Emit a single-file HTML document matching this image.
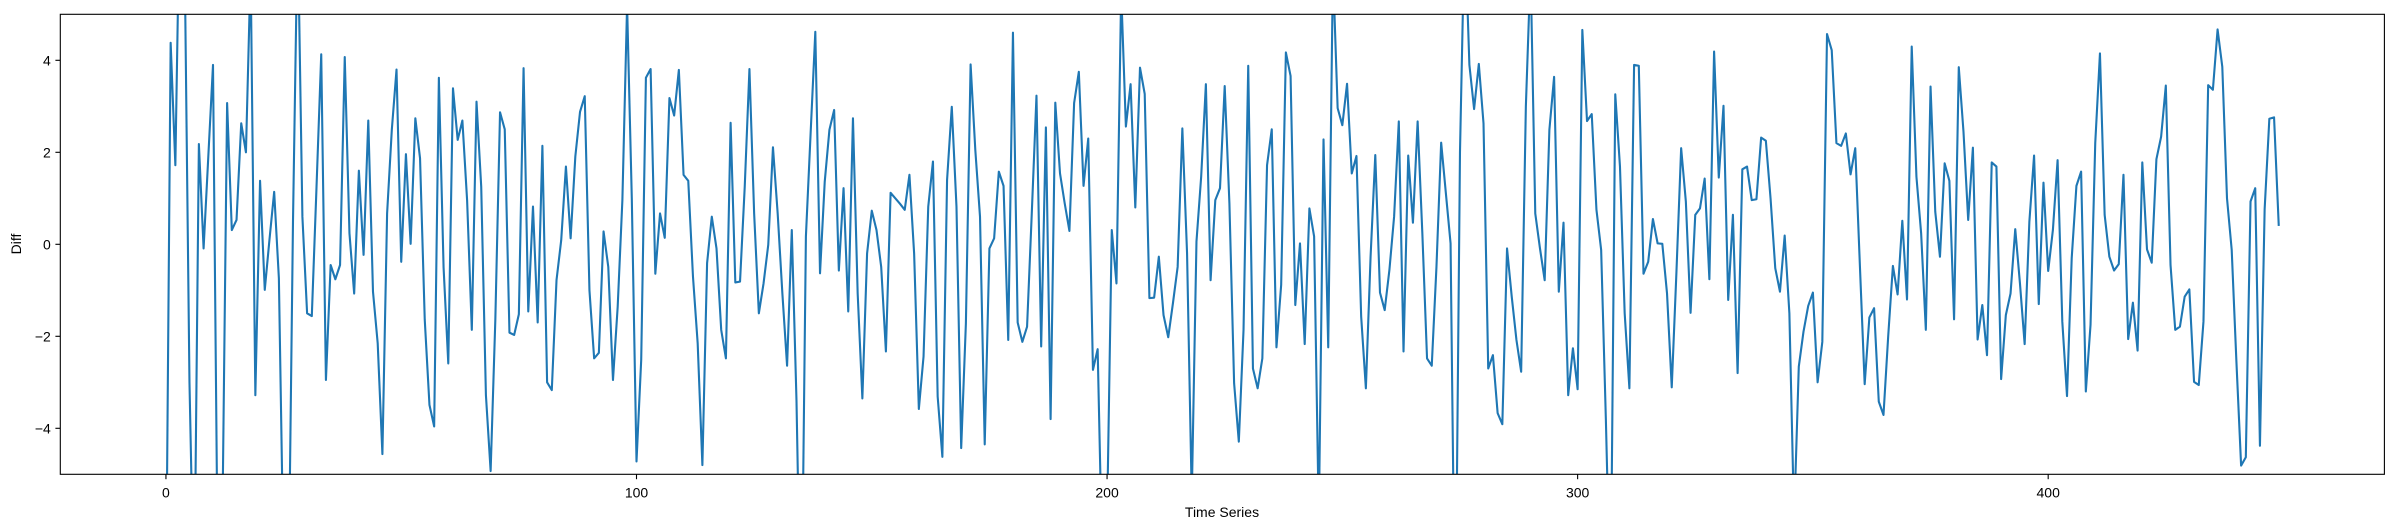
<!DOCTYPE html>
<html>
<head>
<meta charset="utf-8">
<style>
  html, body { margin: 0; padding: 0; background: #ffffff; width: 2398px; height: 528px; overflow: hidden; }
  svg { display: block; }
  text { font-family: "Liberation Sans", "DejaVu Sans", sans-serif; fill: #000; }
</style>
</head>
<body>
<svg id="chart" width="2398" height="528" viewBox="0 0 2398 528" xmlns="http://www.w3.org/2000/svg">
  <defs>
    <clipPath id="plot-clip"><rect x="60.3" y="14.3" width="2324.1" height="460"/></clipPath>
  </defs>
  <rect x="0" y="0" width="2398" height="528" fill="#ffffff"/>
  <g id="series" clip-path="url(#plot-clip)"></g>
  <rect x="60.3" y="14.3" width="2324.1" height="460" fill="none" stroke="#000" stroke-width="1.1"/>
  <g id="xticks"></g>
  <g id="yticks"></g>
  <text x="1222" y="517" font-size="14" text-anchor="middle">Time Series</text>
  <text x="21" y="244" font-size="14" text-anchor="middle" transform="rotate(-90 21 244)">Diff</text>
</svg>
<script>
const diffValues = [
-8,4.38,1.72,8,6,-3,-8,2.18,-0.09,1.9,3.9,-7,-6,3.07,0.31,0.53,2.63,2.0,6,-3.28,
1.38,-0.99,0.1,1.14,-0.74,-7,-8,0.5,7,0.6,-1.5,-1.56,1.25,4.13,-2.95,-0.45,-0.76,-0.45,4.07,0.24,
-1.07,1.6,-0.23,2.69,-1.03,-2.15,-4.56,0.67,2.49,3.8,-0.38,1.96,0.01,2.74,1.87,-1.64,-3.49,-3.96,3.62,-0.5,
-2.59,3.39,2.27,2.69,0.96,-1.86,3.1,1.25,-3.28,-4.93,-1.64,2.87,2.5,-1.92,-1.97,-1.52,3.83,-1.46,0.82,-1.7,
2.14,-3.0,-3.17,-0.78,0.09,1.69,0.13,1.91,2.88,3.22,-1.0,-2.48,-2.36,0.28,-0.49,-2.95,-1.36,0.96,5.2,1.0,
-4.72,-2.51,3.62,3.81,-0.64,0.67,0.14,3.18,2.8,3.79,1.51,1.38,-0.7,-2.15,-4.8,-0.41,0.6,-0.09,-1.86,-2.48,
2.64,-0.83,-0.81,1.25,3.81,0.67,-1.5,-0.85,-0.01,2.11,0.67,-1.07,-2.64,0.31,-3.4,-9,0.17,2.41,4.62,-0.63,
1.36,2.49,2.92,-0.57,1.22,-1.46,2.74,-1.07,-3.35,-0.2,0.73,0.31,-0.49,-2.33,1.12,1.0,0.88,0.75,1.51,-0.2,
-3.58,-2.44,0.82,1.8,-3.31,-4.62,1.4,2.99,0.82,-4.43,-1.72,3.91,2.05,0.6,-4.35,-0.09,0.13,1.58,1.27,-2.08,
4.6,-1.7,-2.12,-1.79,0.67,3.23,-2.22,2.54,-3.8,3.08,1.54,0.89,0.29,3.07,3.75,1.27,2.3,-2.73,-2.28,-7,
-6,0.31,-0.85,5.5,2.56,3.48,0.8,3.84,3.27,-1.17,-1.16,-0.27,-1.54,-2.02,-1.28,-0.49,2.52,-0.2,-5.5,0.06,
1.47,3.48,-0.78,0.96,1.22,3.44,0.89,-3.02,-4.29,-1.86,3.88,-2.7,-3.13,-2.48,1.72,2.5,-2.24,-0.88,4.17,3.66,
-1.32,0.02,-2.17,0.78,0.17,-6,2.28,-2.24,6,2.96,2.59,3.49,1.54,1.92,-1.57,-3.13,-0.27,1.94,-1.05,-1.43,
-0.56,0.6,2.67,-2.33,1.93,0.47,2.67,0.24,-2.48,-2.64,-0.49,2.21,1.11,0.02,-9,2,7,3.9,2.94,3.92,
2.63,-2.7,-2.41,-3.67,-3.91,-0.09,-1.14,-2.08,-2.77,3.0,6,0.67,-0.09,-0.78,2.49,3.64,-1.03,0.47,-3.28,-2.26,
-3.15,4.66,2.68,2.83,0.75,-0.12,-3.8,-8,3.26,1.69,-1.5,-3.13,3.9,3.88,-0.64,-0.38,0.55,0.02,0.01,-1.07,
-3.11,-0.6,2.09,0.93,-1.49,0.64,0.78,1.43,-0.76,4.19,1.45,3.01,-1.21,0.64,-2.8,1.63,1.69,0.96,0.98,2.32,
2.25,1.0,-0.52,-1.03,0.19,-1.5,-6,-2.66,-1.9,-1.34,-1.05,-3.0,-2.12,4.57,4.22,2.2,2.14,2.41,1.52,2.09,
-0.5,-3.04,-1.59,-1.39,-3.42,-3.71,-2.0,-0.47,-1.09,0.51,-1.2,4.3,1.47,0.24,-1.86,3.43,0.71,-0.27,1.76,1.38,
-1.63,3.85,2.45,0.53,2.1,-2.07,-1.32,-2.41,1.78,1.69,-2.93,-1.54,-1.07,0.33,-0.85,-2.17,0.49,1.93,-1.3,1.34,
-0.58,0.31,1.83,-1.68,-3.3,-0.3,1.27,1.58,-3.2,-1.75,2.2,4.15,0.64,-0.27,-0.57,-0.43,1.51,-2.06,-1.27,-2.31,
1.78,-0.11,-0.4,1.85,2.34,3.45,-0.45,-1.86,-1.79,-1.14,-0.98,-2.99,-3.06,-1.68,3.46,3.36,4.67,3.86,1.0,-0.12,
-2.55,-4.81,-4.63,0.93,1.22,-4.38,0.76,2.73,2.76,0.4
];
const xTickValues = [0, 100, 200, 300, 400];
const yTickValues = [-4, -2, 0, 2, 4];

const NS = "http://www.w3.org/2000/svg";
const plotLeft = 60.3, plotRight = 2384.4, plotTop = 14.3, plotBottom = 474.3;
const xMin = -22.45, xMax = 471.45, yMin = -5, yMax = 5;
function xScale(v) { return plotLeft + (v - xMin) / (xMax - xMin) * (plotRight - plotLeft); }
function yScale(v) { return plotBottom - (v - yMin) / (yMax - yMin) * (plotBottom - plotTop); }

// Build path clipped to the y-range in data space (keeps geometry within the frame)
function clippedPath(vals) {
  let d = '';
  let penDown = false;
  let lastX = null, lastY = null;
  for (let i = 0; i < vals.length - 1; i++) {
    let x0 = i, y0 = vals[i], x1 = i + 1, y1 = vals[i + 1];
    let t0 = 0, t1 = 1;
    const dy = y1 - y0;
    if (dy === 0) {
      if (y0 < yMin || y0 > yMax) { penDown = false; continue; }
    } else {
      let ta = (yMin - y0) / dy, tb = (yMax - y0) / dy;
      let lo = Math.min(ta, tb), hi = Math.max(ta, tb);
      t0 = Math.max(t0, lo); t1 = Math.min(t1, hi);
      if (t0 > t1) { penDown = false; continue; }
    }
    const ax = x0 + t0 * (x1 - x0), ay = y0 + t0 * dy;
    const bx = x0 + t1 * (x1 - x0), by = y0 + t1 * dy;
    const pax = xScale(ax).toFixed(2), pay = yScale(ay).toFixed(2);
    const pbx = xScale(bx).toFixed(2), pby = yScale(by).toFixed(2);
    if (!penDown || t0 > 0 || lastX !== pax || lastY !== pay) {
      d += 'M' + pax + ',' + pay;
    }
    d += 'L' + pbx + ',' + pby;
    lastX = pbx; lastY = pby;
    penDown = (t1 === 1);
  }
  return d;
}

const series = document.getElementById('series');
const line = document.createElementNS(NS, 'path');
line.setAttribute('d', clippedPath(diffValues));
line.setAttribute('fill', 'none');
line.setAttribute('stroke', '#1f77b4');
line.setAttribute('stroke-width', '2.1');
line.setAttribute('stroke-linejoin', 'round');
line.setAttribute('stroke-linecap', 'butt');


series.appendChild(line);

const xg = document.getElementById('xticks');
xTickValues.forEach(t => {
  const x = xScale(t);
  const tk = document.createElementNS(NS, 'line');
  tk.setAttribute('x1', x); tk.setAttribute('x2', x);
  tk.setAttribute('y1', plotBottom); tk.setAttribute('y2', plotBottom + 4.9);
  tk.setAttribute('stroke', '#000'); tk.setAttribute('stroke-width', '1.1');
  
  
  xg.appendChild(tk);
  const lb = document.createElementNS(NS, 'text');
  lb.setAttribute('x', x); lb.setAttribute('y', plotBottom + 23);
  lb.setAttribute('font-size', '14'); lb.setAttribute('text-anchor', 'middle');
  lb.textContent = String(t);
  
  
  xg.appendChild(lb);
});

const yg = document.getElementById('yticks');
yTickValues.forEach(t => {
  const y = yScale(t);
  const tk = document.createElementNS(NS, 'line');
  tk.setAttribute('x1', plotLeft - 4.9); tk.setAttribute('x2', plotLeft);
  tk.setAttribute('y1', y); tk.setAttribute('y2', y);
  tk.setAttribute('stroke', '#000'); tk.setAttribute('stroke-width', '1.1');
  
  
  yg.appendChild(tk);
  const lb = document.createElementNS(NS, 'text');
  lb.setAttribute('x', plotLeft - 9.5); lb.setAttribute('y', y + 5);
  lb.setAttribute('font-size', '14'); lb.setAttribute('text-anchor', 'end');
  lb.textContent = t < 0 ? '\u2212' + Math.abs(t) : String(t);
  
  
  yg.appendChild(lb);
});
</script>
</body>
</html>
